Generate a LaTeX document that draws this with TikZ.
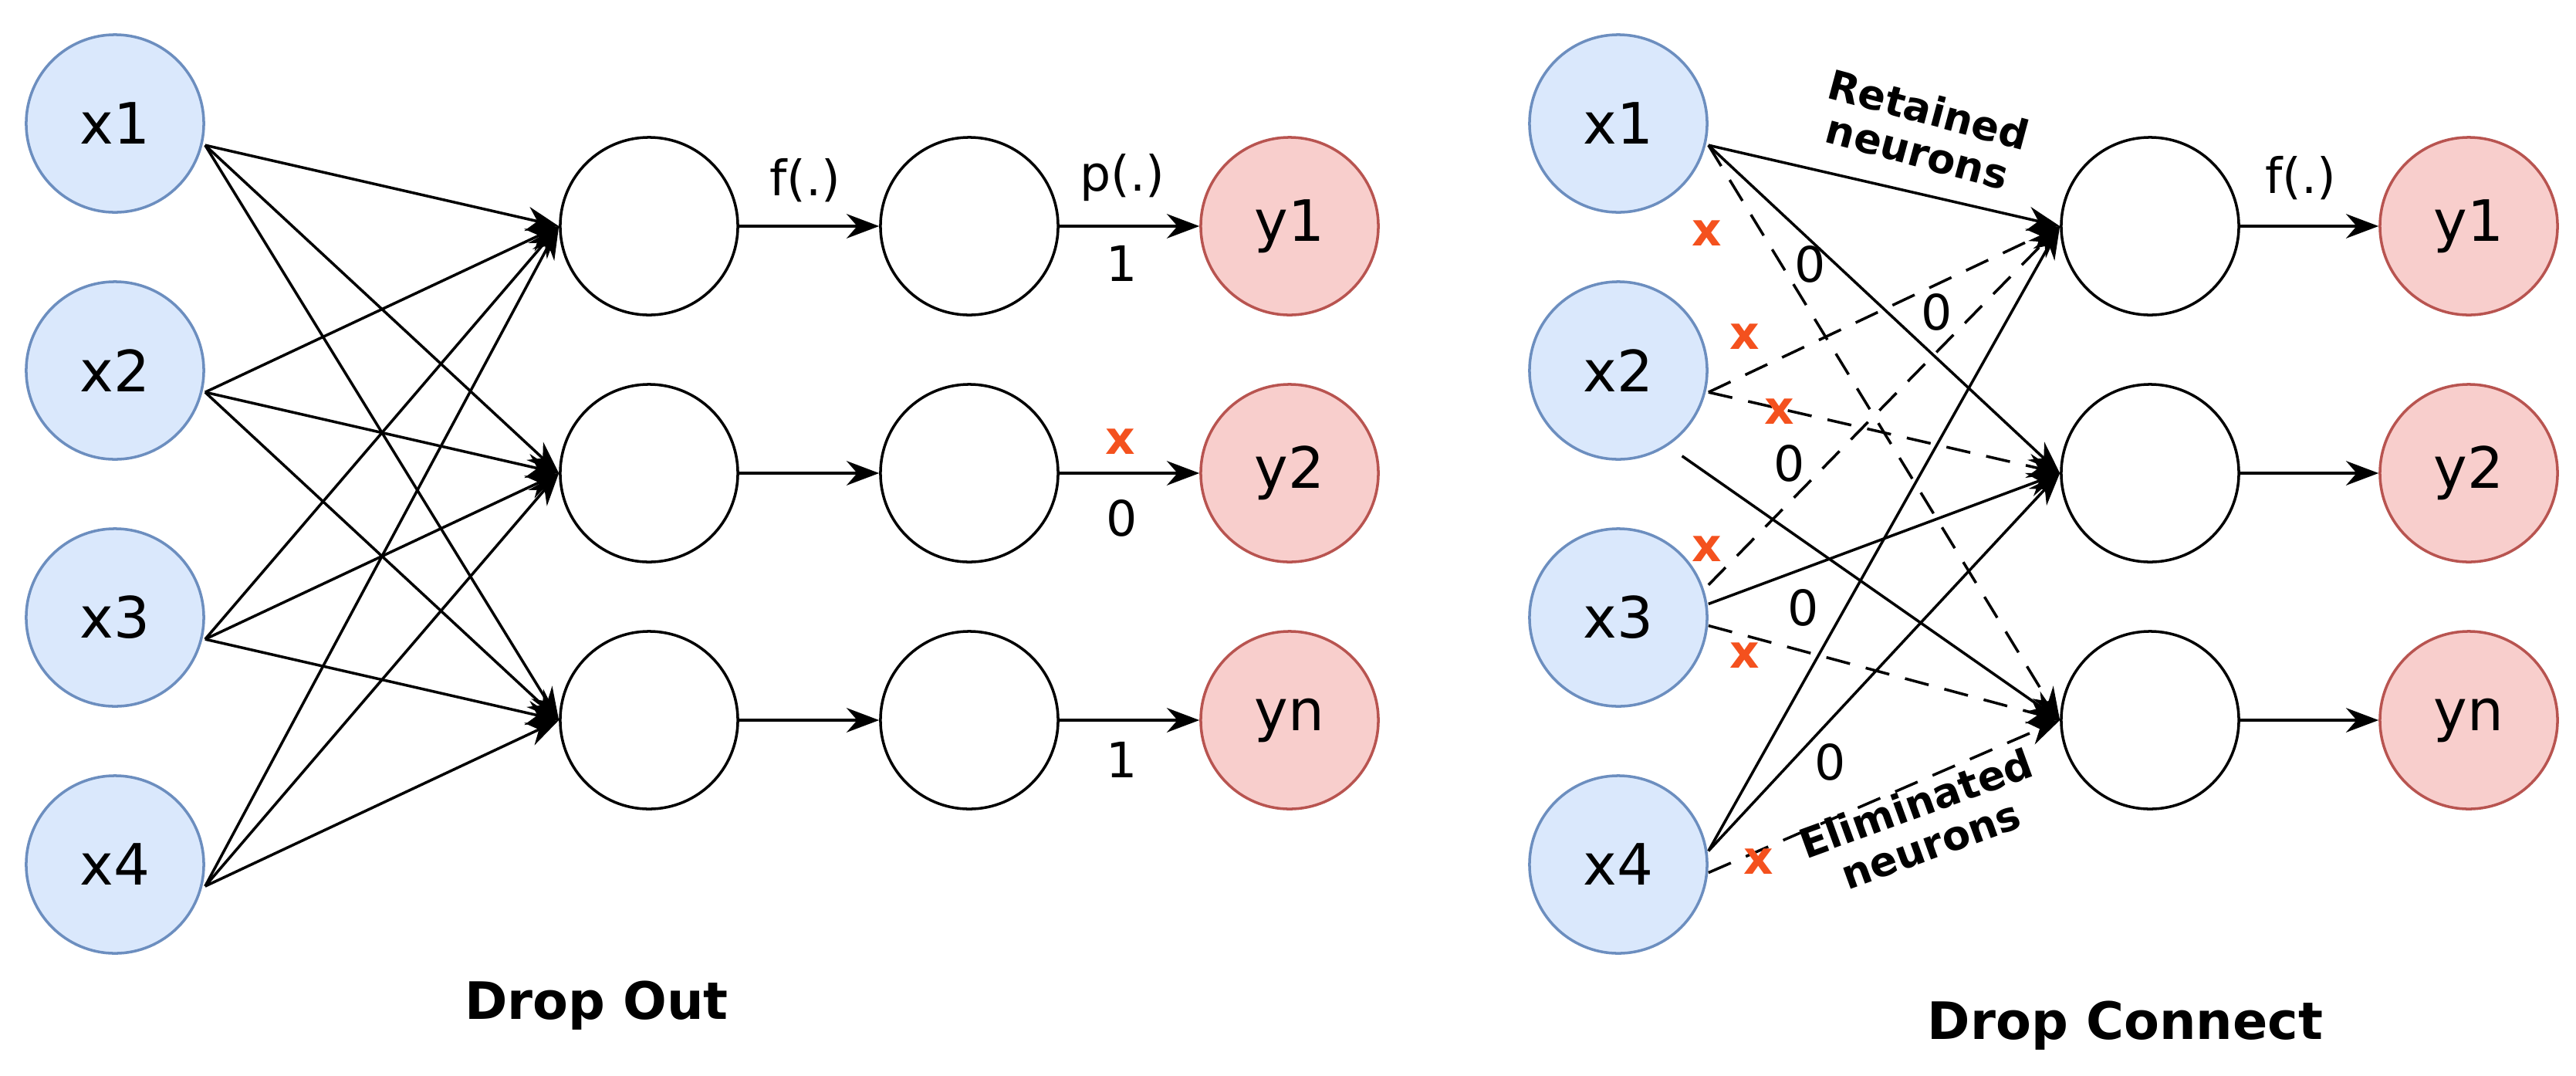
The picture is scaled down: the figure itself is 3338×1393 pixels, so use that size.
\documentclass[tikz,border=0pt]{standalone}
\usepackage{fontspec}
\setmainfont{DejaVu Sans}
\usetikzlibrary{arrows.meta}
\definecolor{bfill}{HTML}{DAE8FC}\definecolor{bdraw}{HTML}{6C8EBF}
\definecolor{rfill}{HTML}{F8CECC}\definecolor{rdraw}{HTML}{B85450}
\definecolor{xred}{HTML}{F4511E}
\begin{document}
\begin{tikzpicture}[x=0.01cm,y=-0.01cm,
  n/.style={circle,draw,line width=1pt,minimum size=2.3cm,inner sep=0pt,font=\fontsize{21}{24}\selectfont},
  inp/.style={n,fill=bfill,draw=bdraw},
  outp/.style={n,fill=rfill,draw=rdraw},
  e/.style={line width=1pt,-{Stealth[length=12pt,width=9pt]}},
  d/.style={e,dash pattern=on 9pt off 6pt},
  lab/.style={font=\fontsize{18}{20}\selectfont},
  cr/.style={text=xred,font=\fontsize{17}{18}\selectfont\bfseries},
  bl/.style={font=\fontsize{15}{16}\selectfont\bfseries,align=center},
  ttl/.style={font=\fontsize{19}{22}\selectfont\bfseries}]
\useasboundingbox (0,0) rectangle (3338,1393);
% left panel
\foreach \i/\y in {1/160,2/480,3/800,4/1120}{\node[inp] (a\i) at (149,\y) {x\i};}
\foreach \i/\y in {1/293,2/613,3/933}{\node[n] (h\i) at (841,\y) {}; \node[n] (g\i) at (1256,\y) {};}
\node[outp] (o1) at (1671,293) {y1};
\node[outp] (o2) at (1671,613) {y2};
\node[outp] (o3) at (1671,933) {yn};
\foreach \i in {1,...,4}{\foreach \j in {1,2,3}{\draw[e] ([yshift=-8pt]a\i.east) -- (h\j.west);}}
\foreach \j in {1,2,3}{\draw[e] (h\j) -- (g\j); \draw[e] (g\j) -- (o\j);}
\node[lab] at (1043,234) {f(.)};
\node[lab] at (1454,230) {p(.)};
\node[lab] at (1454,341) {1};
\node[cr] at (1452,572) {x};
\node[lab] at (1454,671) {0};
\node[lab] at (1454,984) {1};
\node[ttl] at (773,1303) {Drop Out};
% right panel
\foreach \i/\y in {1/160,2/480,3/800,4/1120}{\node[inp] (b\i) at (2097,\y) {x\i};}
\foreach \i/\y in {1/293,2/613,3/933}{\node[n] (k\i) at (2786,\y) {};}
\node[outp] (p1) at (3199,293) {y1};
\node[outp] (p2) at (3199,613) {y2};
\node[outp] (p3) at (3199,933) {yn};
\draw[e] ([yshift=-8pt]b1.east) -- (k1.west);
\draw[e] ([yshift=-8pt]b1.east) -- (k2.west);
\draw[e] ([yshift=-8pt]b2.south east) -- (k3.west);
\draw[e] ([yshift=5pt]b3.east) -- (k2.west);
\draw[e] ([yshift=5pt]b4.east) -- (k1.west);
\draw[e] ([yshift=5pt]b4.east) -- (k2.west);
\draw[d] ([yshift=-8pt]b1.east) -- (k3.west);
\draw[d] ([yshift=-8pt]b2.east) -- (k1.west);
\draw[d] ([yshift=-8pt]b2.east) -- (k2.west);
\draw[d] ([yshift=12pt]b3.east) -- (k1.west);
\draw[d] ([yshift=-3pt]b3.east) -- (k3.west);
\draw[d] ([yshift=-3pt]b4.east) -- (k3.west);
\foreach \j in {1,2,3}{\draw[e] (k\j) -- (p\j);}
\node[lab] at (2981,231) {f(.)};
\foreach \p in {(2346,342),(2510,404),(2319,600),(2337,787),(2372,987)}{\node[lab,inner sep=1pt] at \p {0};}
\foreach \p in {(2212,302),(2261,436),(2306,533),(2212,711),(2261,849),(2279,1116)}{\node[cr] at \p {x};}
\node[bl,rotate=-15] at (2492,169) {Retained\\neurons};
\node[bl,rotate=20] at (2492,1067) {Eliminated\\neurons};
\node[ttl] at (2754,1329) {Drop Connect};
\end{tikzpicture}
\end{document}
